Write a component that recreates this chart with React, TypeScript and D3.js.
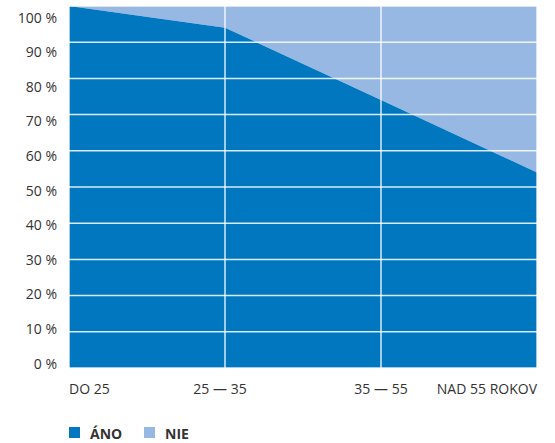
import React from "react";
import * as d3 from "d3";

const categories = ["DO 25", "25 — 35", "35 — 55", "NAD 55 ROKOV"];
const ano = [100, 94, 74, 54];
const nie = [0, 6, 26, 46];
const yTicks = [0, 10, 20, 30, 40, 50, 60, 70, 80, 90, 100];
const seriesNames = ["ÁNO", "NIE"];
const colors = ["#0077BF", "#96B8E2"];

const W = 555;
const H = 443;
const left = 69;
const right = 537;
const top = 6;
const bottom = 368;

export default function App() {
  const x = d3.scalePoint<string>().domain(categories).range([left, right]);
  const y = d3.scaleLinear().domain([0, 100]).range([bottom, top]);
  // tick labels are laid out slightly tighter than the gridlines in the reference
  const yLab = d3.scaleLinear().domain([0, 100]).range([363, 17]);

  const rows = categories.map((c, i) => ({ c, a: ano[i], n: nie[i] }));
  const areaAno = d3
    .area<any>()
    .x((d) => x(d.c)!)
    .y0(() => y(0))
    .y1((d) => y(d.a));
  const areaNie = d3
    .area<any>()
    .x((d) => x(d.c)!)
    .y0((d) => y(d.a))
    .y1((d) => y(d.a + d.n));

  const font = "'Open Sans', 'Noto Sans', sans-serif";
  const anchors = ["start", "middle", "middle", "end"];
  const dx = [0, -5, 0, 0];

  return (
    <svg
      width={W}
      height={H}
      style={{ position: "absolute", left: 0, top: 0 }}
      fontFamily={font}
    >
      <path d={areaNie(rows)!} fill={colors[1]} />
      <path d={areaAno(rows)!} fill={colors[0]} />
      {yTicks.map((t) => (
        <line
          key={"g" + t}
          x1={left}
          x2={right}
          y1={y(t)}
          y2={y(t)}
          stroke="#fff"
          strokeOpacity={0.85}
          strokeWidth={1.5}
        />
      ))}
      {categories.map((c) => (
        <line
          key={"v" + c}
          x1={x(c)}
          x2={x(c)}
          y1={top}
          y2={bottom}
          stroke="#fff"
          strokeOpacity={0.85}
          strokeWidth={1.5}
        />
      ))}
      {yTicks.map((t) => (
        <text
          key={"l" + t}
          x={57}
          y={yLab(t)}
          textAnchor="end"
          dominantBaseline="central"
          fontSize={14}
          fill="#333"
        >
          {t} %
        </text>
      ))}
      {categories.map((c, i) => (
        <text
          key={"x" + c}
          x={x(c)! + dx[i]}
          y={388}
          textAnchor={anchors[i]}
          dominantBaseline="central"
          fontSize={14}
          fill="#333"
        >
          {c}
        </text>
      ))}
      {seriesNames.map((s, i) => (
        <g key={s} transform={`translate(${69 + i * 75},427)`}>
          <rect width={11} height={11} fill={colors[i]} />
          <text
            x={21}
            y={6}
            dominantBaseline="central"
            fontSize={14}
            fontWeight={700}
            fill="#333"
          >
            {s}
          </text>
        </g>
      ))}
    </svg>
  );
}
